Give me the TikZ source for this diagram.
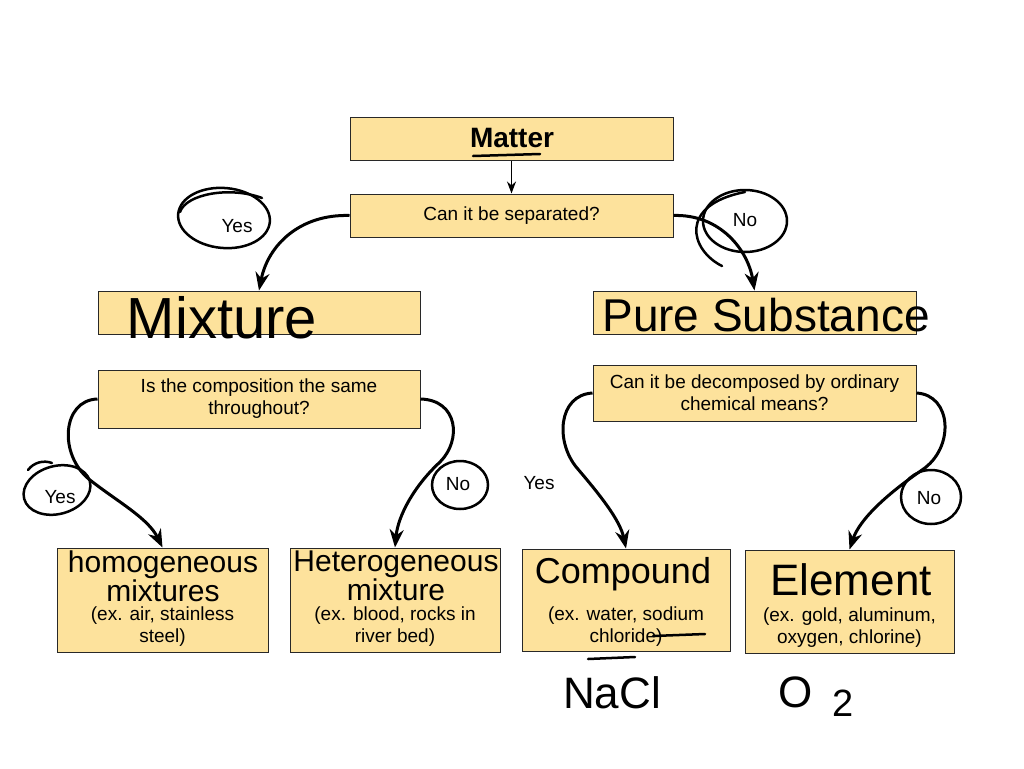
\documentclass[tikz,border=0pt]{standalone}
\usepackage{fontspec}
\setmainfont{Liberation Sans}
\usetikzlibrary{positioning,arrows.meta}
\definecolor{boxfill}{RGB}{253,226,156}
\definecolor{boxline}{RGB}{40,40,40}
\tikzset{
  box/.style={draw=boxline, line width=1pt, fill=boxfill, inner sep=0pt,
              minimum width=323pt, minimum height=43pt},
  leaf/.style={box, minimum width=210pt, minimum height=103pt},
  txt/.style={font=\fontsize{19}{22}\selectfont, align=center, inner sep=0pt},
  hw/.style={align=center, inner sep=0pt},
  arr/.style={-{Stealth[length=18pt,width=14pt]}, line width=3pt},
  ink/.style={line width=2.5pt, line cap=round}
}

\begin{document}
\begin{tikzpicture}[x=1pt, y=-1pt]
  \useasboundingbox (0,0) rectangle (1024,768);
  % top of the tree
  \node[box] (matter) at (511.5,138.5) {};
  \node[font=\fontsize{28}{32}\selectfont\bfseries, inner sep=0pt] (mattert) at (512,138) {Matter};
  \node[box, below=33pt of matter] (sep) {};
  \node[txt] (sept) at (sep.center) {Can it be separated?};
  \node[box, minimum width=322pt] (mix) at (259,312.5) {};
  \node[box] (pure) at (754.5,312.5) {};
  \node[box, minimum width=322pt, minimum height=58pt] (comp) at (259,399) {};
  \node[txt] (compt) at (comp.center) {Is the composition the same\\throughout?};
  \node[box, minimum height=56pt] (dec) at (754.5,393) {};
  \node[txt] (dect) at (dec.center) {Can it be decomposed by ordinary\\chemical means?};
  % leaves
  \node[leaf, minimum width=211pt, minimum height=104pt] (homo) at (162.5,600) {};
  \node[leaf, minimum height=104pt] (het) at (395,600) {};
  \node[leaf, minimum width=208pt, minimum height=102pt] (cmpd) at (626,600) {};
  \node[leaf, minimum width=209pt] (elem) at (849.5,601.5) {};
  \node[txt] (homox) at (162.5,627) {(ex. air, stainless\\steel)};
  \node[txt] (hetx) at (395,627) {(ex. blood, rocks in\\river bed)};
  \node[txt] (cmpdx) at (626,627) {(ex. water, sodium\\chloride)};
  \node[txt] (elemx) at (849.5,628) {(ex. gold, aluminum,\\oxygen, chlorine)};
  % handwriting
  \node[hw, font=\fontsize{58}{60}\selectfont] (mixt) at (222,318) {Mixture};
  \node[hw, font=\fontsize{46}{50}\selectfont] (puret) at (766,315) {Pure Substance};
  \node[hw, font=\fontsize{30}{25}\selectfont] (homot) at (163,576) {homogeneous\\mixtures};
  \node[hw, font=\fontsize{30}{25}\selectfont] (hett) at (396,576) {Heterogeneous\\mixture};
  \node[hw, font=\fontsize{36}{40}\selectfont] (cmpdt) at (623,574) {Compound};
  \node[hw, font=\fontsize{44}{48}\selectfont] (elemt) at (851,580) {Element};
  \node[hw, font=\fontsize{44}{48}\selectfont] (nacl) at (612,693) {NaCl};
  \node[hw, font=\fontsize{44}{48}\selectfont, anchor=west] (otwo) at (778,697)
    {O\hspace{20pt}\raisebox{-9pt}{\fontsize{38}{38}\selectfont 2}};
  % answers
  \node[txt] (yes1) at (237,226) {Yes};
  \node[txt] (no1) at (745,220) {No};
  \node[txt] (yes2) at (60,497) {Yes};
  \node[txt] (no2) at (458,484) {No};
  \node[txt] (yes3) at (539,483) {Yes};
  \node[txt] (no3) at (929,498) {No};
  % connectors
  \draw[-{Stealth[length=12pt,width=9pt]}, line width=1.5pt] (matter) -- (sep);
  \draw[arr] (sep.west) .. controls (300,214) and (268,245) .. (mix.north);
  \draw[arr] (sep.east) .. controls (720,214) and (748,250) .. (pure.north);
  \draw[arr] (comp.west) .. controls (62,400) and (58,455) .. (90,480)
             .. controls (118,502) and (148,518) .. (homo.north);
  \draw[arr] (comp.east) .. controls (458,400) and (462,440) .. (440,462)
             .. controls (415,485) and (398,515) .. (het.north);
  \draw[arr] (dec.west) .. controls (558,395) and (555,442) .. (577,468)
             .. controls (600,495) and (620,520) .. (cmpd.north);
  \draw[arr] (dec.east) .. controls (952,395) and (955,448) .. (922,470)
             .. controls (890,492) and (860,518) .. (elem.north);
  % pen marks
  \draw[ink] (473,156) -- (540,154);
  \draw[ink] (yes1) ++(-13,-8) ellipse [x radius=46pt, y radius=30pt, rotate=-5];
  \draw[ink] (180,212) .. controls (186,194) and (230,186) .. (262,198);
  \draw[ink] (no1) ++(0,1) ellipse [x radius=42pt, y radius=31pt];
  \draw[ink] (722,266) .. controls (690,250) and (678,205) .. (745,192);
  \draw[ink] (yes2) ++(-3,-7) ellipse [x radius=34pt, y radius=24pt, rotate=15];
  \draw[ink] (28,470) .. controls (34,462) and (44,460) .. (52,463);
  \draw[ink] (no2) ++(2,1) ellipse [x radius=28pt, y radius=24pt];
  \draw[ink] (no3) ++(2,-1) ellipse [x radius=30pt, y radius=27pt];
  \draw[ink] (653,636) -- (705,634);
  \draw[ink] (588,659) -- (635,657);
\end{tikzpicture}
\end{document}
